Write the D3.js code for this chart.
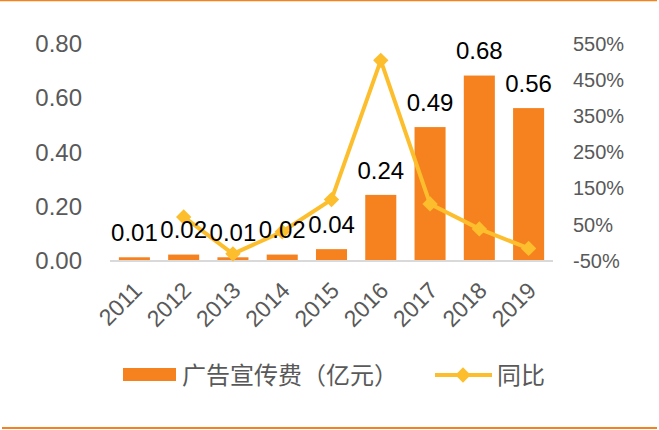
<!DOCTYPE html>
<html>
<head>
<meta charset="utf-8">
<script src="https://cdn.jsdelivr.net/npm/d3@7/dist/d3.min.js"></script>
<style>
  html, body { margin: 0; padding: 0; background: #fff; }
  svg { display: block; }
  text { font-family: "Liberation Sans", Arial, sans-serif; }
</style>
</head>
<body>
<svg id="chart" width="659" height="430"></svg>
<script>
const years = ["2011","2012","2013","2014","2015","2016","2017","2018","2019"];
const adSpend = [0.01, 0.02, 0.01, 0.02, 0.04, 0.24, 0.49, 0.68, 0.56];
const yoy = [null, 69, -33, 28, 117, 502, 105, 36, -18];
const leftTicks = [0, 0.2, 0.4, 0.6, 0.8];
const rightTicks = [-50, 50, 150, 250, 350, 450, 550];
const seriesNames = ["广告宣传费（亿元）", "同比"];

const barColor = "#F5821F";
const lineColor = "#FDBE2E";
const textGray = "#595959";
const latin = "'Liberation Sans', Arial, sans-serif";
const cjk = "'Noto Sans CJK SC', sans-serif";

const svg = d3.select("#chart");

// frame lines
svg.append("line").attr("x1", 0).attr("x2", 657).attr("y1", 0.5).attr("y2", 0.5)
  .attr("stroke", barColor).attr("stroke-width", 1.5);
svg.append("line").attr("x1", 2).attr("x2", 657).attr("y1", 428).attr("y2", 428)
  .attr("stroke", barColor).attr("stroke-width", 2);

const x = d3.scaleBand().domain(years).range([110, 553]).paddingInner(0.37).paddingOuter(0.18);
const yL = d3.scaleLinear().domain([0, 0.8]).range([260, 43]);
const yR = d3.scaleLinear().domain([-50, 550]).range([260, 43]);

// left axis
const axL = svg.append("g").attr("transform", "translate(82,0)")
  .call(d3.axisLeft(yL).tickValues(leftTicks).tickFormat(d3.format(".2f")).tickSize(0).tickPadding(0));
axL.select(".domain").remove();
axL.selectAll("text").attr("fill", textGray).style("font-size", "24px")
  .style("font-family", latin).attr("dy", "0.36em");

// right axis
const axR = svg.append("g").attr("transform", "translate(573,0)")
  .call(d3.axisRight(yR).tickValues(rightTicks).tickFormat(d => d + "%").tickSize(0).tickPadding(0));
axR.select(".domain").remove();
axR.selectAll("text").attr("fill", textGray).style("font-size", "20px")
  .style("font-family", latin).attr("dy", "0.36em");

// bars
svg.append("g").selectAll("rect").data(years).join("rect")
  .attr("x", d => x(d))
  .attr("width", x.bandwidth())
  .attr("y", (d, i) => yL(adSpend[i]))
  .attr("height", (d, i) => yL(0) - yL(adSpend[i]))
  .attr("fill", barColor);

// x axis line
svg.append("line").attr("x1", 110).attr("x2", 553).attr("y1", 261).attr("y2", 261)
  .attr("stroke", "#D9D9D9").attr("stroke-width", 2);

// x axis labels
const axX = svg.append("g").attr("transform", "translate(0,261)")
  .call(d3.axisBottom(x).tickSize(0).tickPadding(0));
axX.select(".domain").remove();
axX.selectAll("text")
  .attr("fill", textGray).style("font-size", "23px")
  .style("font-family", latin)
  .attr("text-anchor", "end")
  .attr("dy", "0")
  .attr("y", 0)
  .attr("transform", "translate(9,31) rotate(-45)");

// line
const pts = years.map((d, i) => ({ x: x(d) + x.bandwidth() / 2, v: yoy[i] })).filter(p => p.v !== null);
const line = d3.line().x(p => p.x).y(p => yR(p.v));
svg.append("path").datum(pts).attr("d", line)
  .attr("fill", "none").attr("stroke", lineColor).attr("stroke-width", 4)
  .attr("stroke-linejoin", "round");
const diamond = d3.symbol().type(d3.symbolDiamond2).size(150);
svg.append("g").selectAll("path").data(pts).join("path")
  .attr("d", diamond)
  .attr("transform", p => `translate(${p.x},${yR(p.v)})`)
  .attr("fill", lineColor);

// bar value labels (drawn above the line, as in the reference)
svg.append("g").selectAll("text").data(years).join("text")
  .attr("x", d => x(d) + x.bandwidth() / 2)
  .attr("y", (d, i) => yL(adSpend[i]) - 25)
  .attr("dy", "0.36em")
  .attr("text-anchor", "middle")
  .attr("fill", "#000")
  .style("font-size", "24px")
  .style("font-family", latin)
  .text((d, i) => adSpend[i].toFixed(2));

// legend
const lg = svg.append("g");
lg.append("rect").attr("x", 123).attr("y", 368).attr("width", 53).attr("height", 13).attr("fill", barColor);
lg.append("text").attr("x", 182).attr("y", 375).attr("dy", "0.36em")
  .attr("fill", textGray).style("font-size", "24px")
  .style("font-family", cjk)
  .text(seriesNames[0]);
lg.append("line").attr("x1", 435).attr("x2", 492).attr("y1", 375).attr("y2", 375)
  .attr("stroke", lineColor).attr("stroke-width", 4);
lg.append("path").attr("d", diamond).attr("transform", "translate(463,375)").attr("fill", lineColor);
lg.append("text").attr("x", 497).attr("y", 375).attr("dy", "0.36em")
  .attr("fill", textGray).style("font-size", "24px")
  .style("font-family", cjk)
  .text(seriesNames[1]);
</script>
</body>
</html>
